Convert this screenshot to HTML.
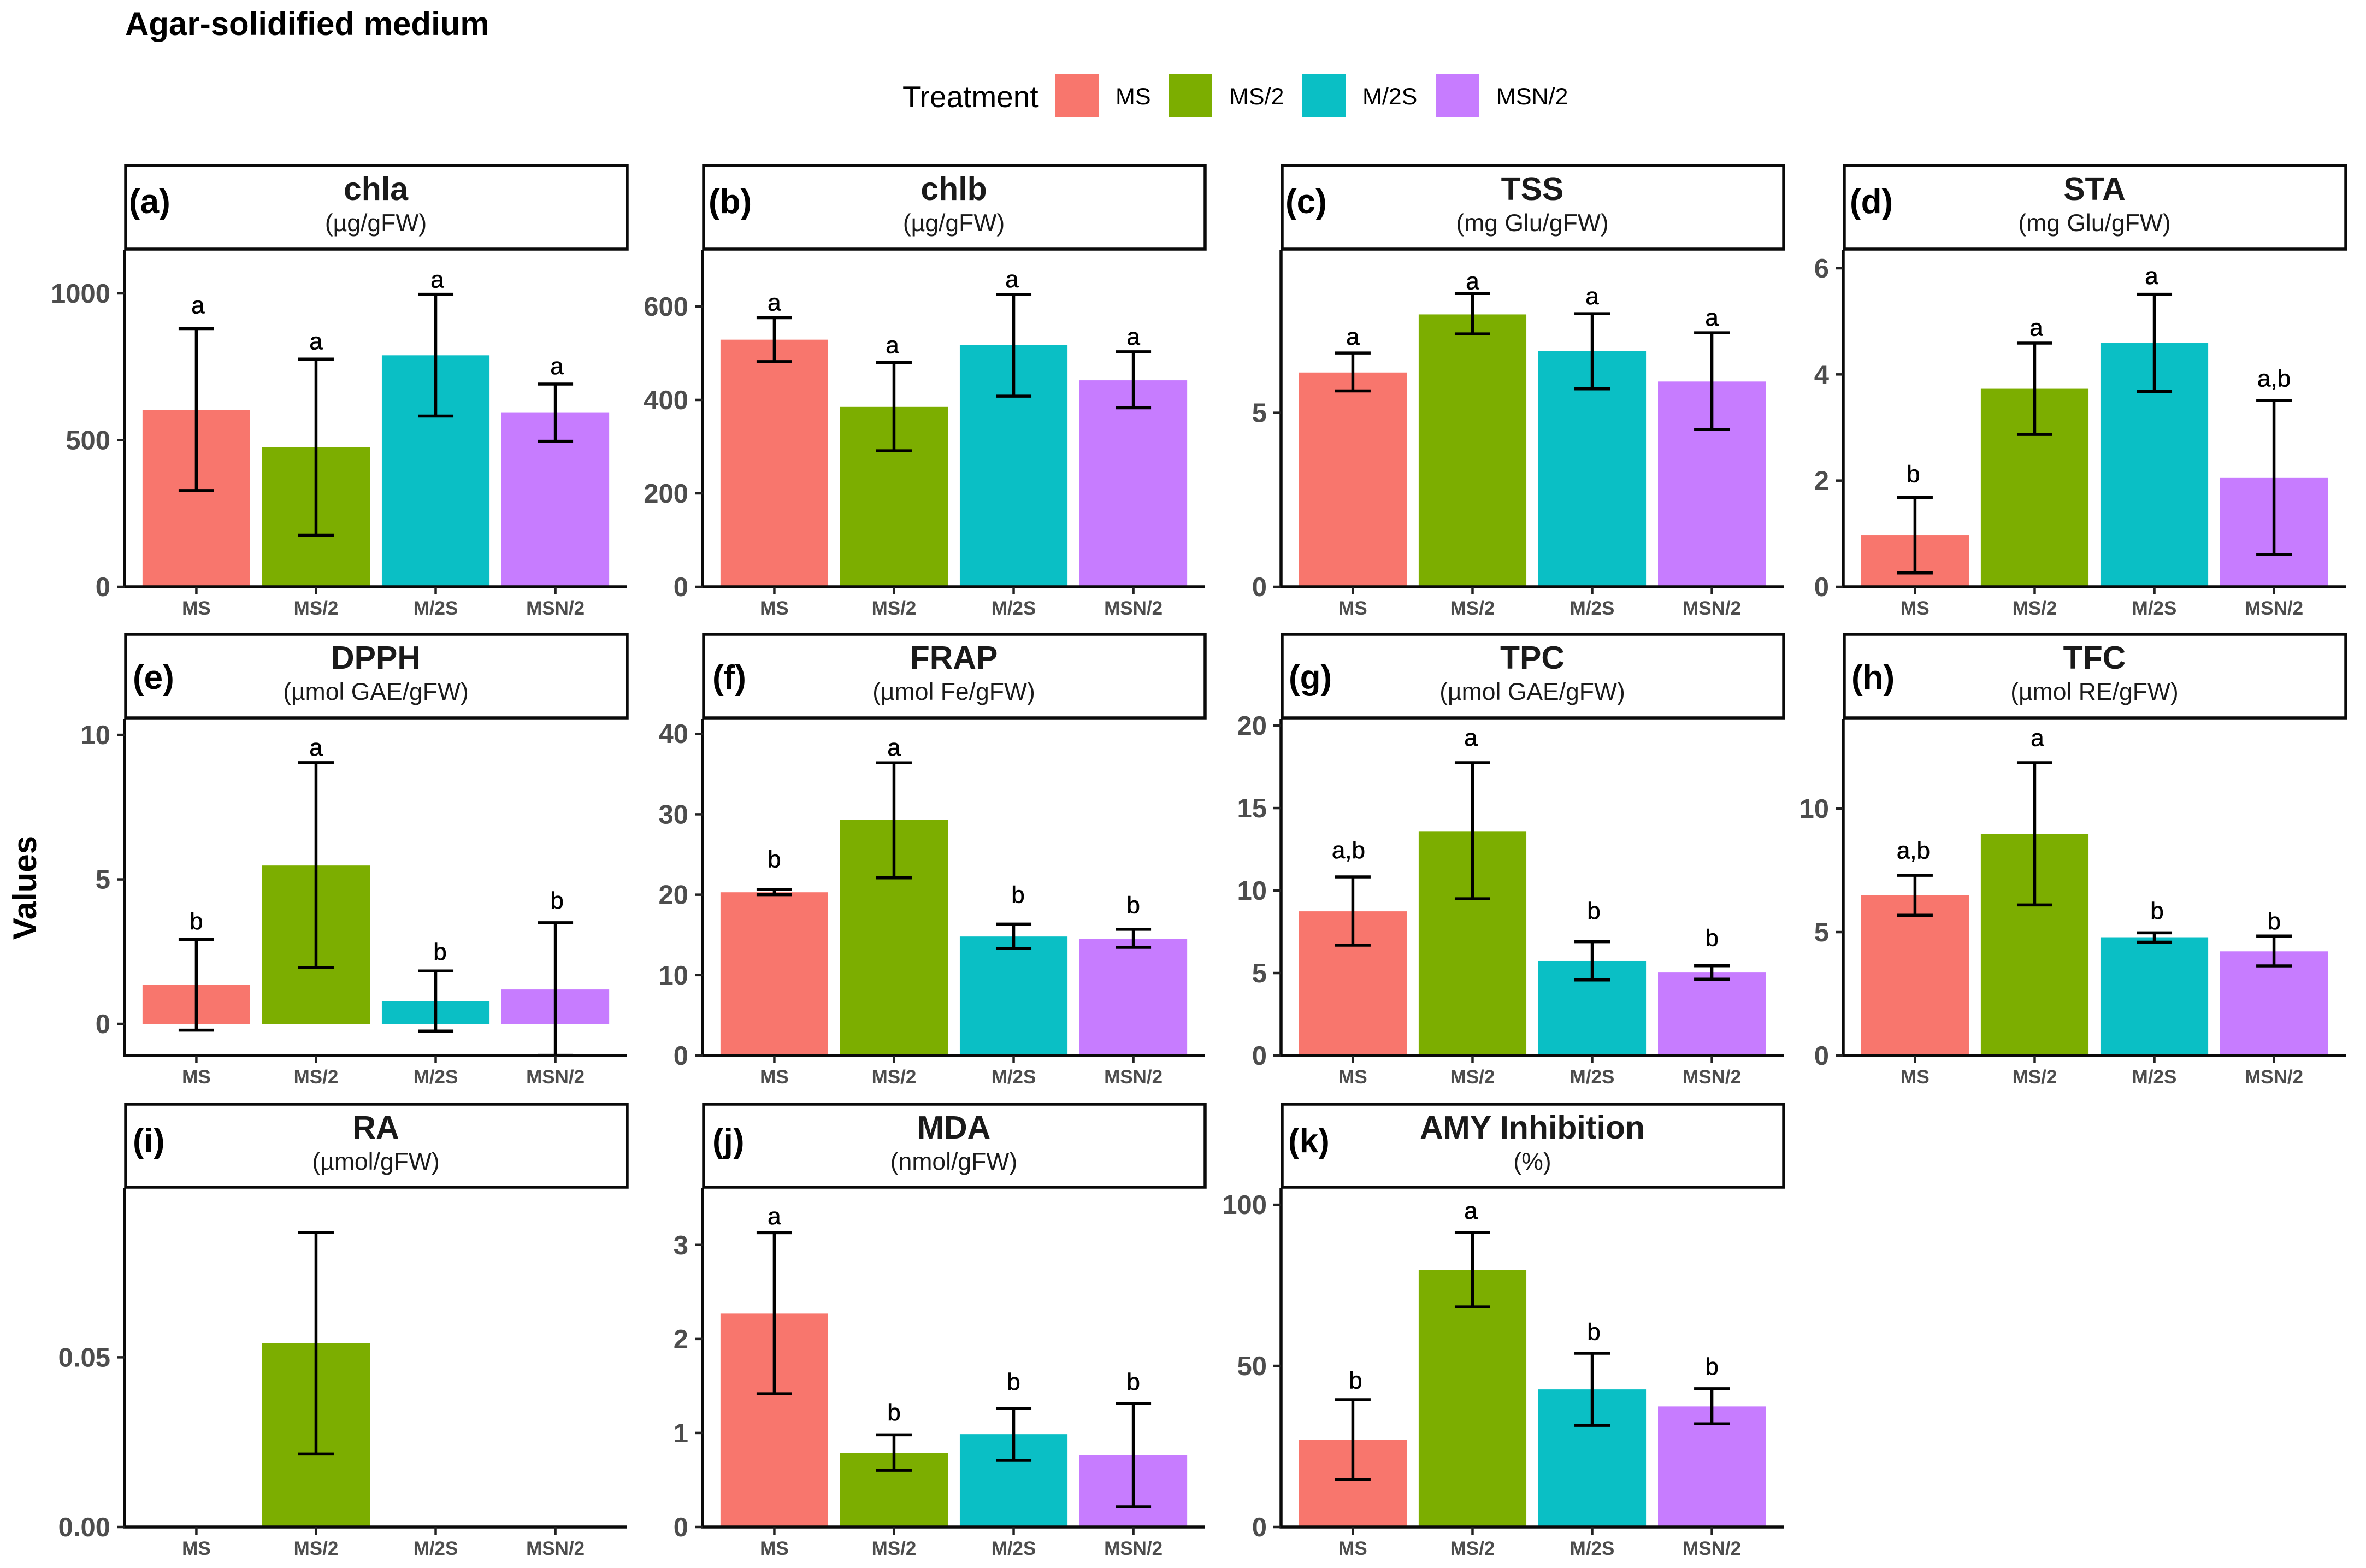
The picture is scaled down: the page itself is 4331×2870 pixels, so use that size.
<!DOCTYPE html>
<html lang="en">
<head>
<meta charset="utf-8">
<title>Agar-solidified medium</title>
<style>
html,body{margin:0;padding:0;background:#fff;}
svg{display:block;font-family:"Liberation Sans",sans-serif;}
</style>
</head>
<body>
<svg id="figure" xmlns="http://www.w3.org/2000/svg" width="4331" height="2870" viewBox="0 0 4331 2870">
  <rect x="0" y="0" width="4331" height="2870" fill="#fff"/>
  <text x="229" y="64" font-size="60" font-weight="700" fill="#000">Agar-solidified medium</text>
  <text transform="translate(66,1625) rotate(-90)" text-anchor="middle" font-size="60" font-weight="700" fill="#000">Values</text>
  <g>
    <text x="1652" y="196" font-size="55" fill="#000">Treatment</text>
    <rect x="1932" y="135" width="79" height="80" fill="#F8766D"/>
    <text x="2042" y="191" font-size="43" fill="#000">MS</text>
    <rect x="2139" y="135" width="79" height="80" fill="#7CAE00"/>
    <text x="2250" y="191" font-size="43" fill="#000">MS/2</text>
    <rect x="2384" y="135" width="79" height="80" fill="#0ABFC5"/>
    <text x="2494" y="191" font-size="43" fill="#000">M/2S</text>
    <rect x="2628" y="135" width="79" height="80" fill="#C77CFF"/>
    <text x="2739" y="191" font-size="43" fill="#000">MSN/2</text>
  </g>
</svg>
<script>
// ---- shared categories ----
const categories = ['MS', 'MS/2', 'M/2S', 'MSN/2'];

// ---- (a) chla ----
const chlaMeans = [602, 475, 789, 593];
const chlaUpper = [880, 776, 997, 691];
const chlaLower = [328, 176, 582, 496];
const chlaLetters = ['a', 'a', 'a', 'a'];
const chlaLetterAt = [932, 809, 1020, 724];
const chlaTicks = [0, 500, 1000];
const chlaTickLabels = ['0', '500', '1000'];
const chlaDomain = [0, 1149];

// ---- (b) chlb ----
const chlbMeans = [529, 385, 517, 442];
const chlbUpper = [576, 480, 626, 503];
const chlbLower = [482, 291, 408, 383];
const chlbLetters = ['a', 'a', 'a', 'a'];
const chlbLetterAt = [591, 500, 641, 518];
const chlbTicks = [0, 200, 400, 600];
const chlbTickLabels = ['0', '200', '400', '600'];
const chlbDomain = [0, 721.6];

// ---- (c) TSS ----
const tssMeans = [6.16, 7.83, 6.77, 5.9];
const tssUpper = [6.72, 8.43, 7.85, 7.3];
const tssLower = [5.63, 7.27, 5.69, 4.52];
const tssLetters = ['a', 'a', 'a', 'a'];
const tssLetterAt = [6.96, 8.55, 8.12, 7.51];
const tssTicks = [0, 5];
const tssTickLabels = ['0', '5'];
const tssDomain = [0, 9.69];

// ---- (d) STA ----
const staMeans = [0.967, 3.73, 4.59, 2.06];
const staUpper = [1.68, 4.59, 5.51, 3.51];
const staLower = [0.26, 2.87, 3.68, 0.61];
const staLetters = ['b', 'a', 'a', 'a,b'];
const staLetterAt = [1.97, 4.73, 5.7, 3.77];
const staTicks = [0, 2, 4, 6];
const staTickLabels = ['0', '2', '4', '6'];
const staDomain = [0, 6.35];

// ---- (e) DPPH ----
const dpphMeans = [1.35, 5.48, 0.78, 1.19];
const dpphUpper = [2.92, 9.04, 1.83, 3.5];
const dpphLower = [-0.22, 1.95, -0.25, -1.09];
const dpphLetters = ['b', 'a', 'b', 'b'];
const dpphLetterAt = [3.27, 9.28, 2.21, 3.99];
const dpphTicks = [0, 5, 10];
const dpphTickLabels = ['0', '5', '10'];
const dpphDomain = [-1.096, 10.55];

// ---- (f) FRAP ----
const frapMeans = [20.3, 29.3, 14.8, 14.5];
const frapUpper = [20.65, 36.4, 16.35, 15.7];
const frapLower = [20.0, 22.1, 13.3, 13.45];
const frapLetters = ['b', 'a', 'b', 'b'];
const frapLetterAt = [23.4, 37.3, 19, 17.7];
const frapTicks = [0, 10, 20, 30, 40];
const frapTickLabels = ['0', '10', '20', '30', '40'];
const frapDomain = [0, 41.85];

// ---- (g) TPC ----
const tpcMeans = [8.74, 13.6, 5.73, 5.03];
const tpcUpper = [10.83, 17.75, 6.9, 5.44];
const tpcLower = [6.69, 9.5, 4.58, 4.63];
const tpcLetters = ['a,b', 'a', 'b', 'b'];
const tpcLetterAt = [11.95, 18.77, 8.28, 6.64];
const tpcTicks = [0, 5, 10, 15, 20];
const tpcTickLabels = ['0', '5', '10', '15', '20'];
const tpcDomain = [0, 20.4];

// ---- (h) TFC ----
const tfcMeans = [6.49, 8.98, 4.79, 4.22];
const tfcUpper = [7.3, 11.86, 4.97, 4.84];
const tfcLower = [5.68, 6.1, 4.59, 3.63];
const tfcLetters = ['a,b', 'a', 'b', 'b'];
const tfcLetterAt = [7.98, 12.54, 5.53, 5.11];
const tfcTicks = [0, 5, 10];
const tfcTickLabels = ['0', '5', '10'];
const tfcDomain = [0, 13.63];

// ---- (i) RA ----
const raMeans = [0, 0.0541, 0, 0];
const raUpper = [0, 0.0868, 0, 0];
const raLower = [0, 0.0215, 0, 0];
const raLetters = ['', '', '', ''];
const raLetterAt = [0, 0, 0, 0];
const raTicks = [0, 0.05];
const raTickLabels = ['0.00', '0.05'];
const raDomain = [0, 0.0998];

// ---- (j) MDA ----
const mdaMeans = [2.27, 0.79, 0.987, 0.763];
const mdaUpper = [3.13, 0.98, 1.26, 1.314];
const mdaLower = [1.417, 0.604, 0.709, 0.215];
const mdaLetters = ['a', 'b', 'b', 'b'];
const mdaLetterAt = [3.22, 1.133, 1.458, 1.458];
const mdaTicks = [0, 1, 2, 3];
const mdaTickLabels = ['0', '1', '2', '3'];
const mdaDomain = [0, 3.603];

// ---- (k) AMY Inhibition ----
const amyMeans = [27.1, 79.8, 42.7, 37.4];
const amyUpper = [39.5, 91.4, 53.9, 42.9];
const amyLower = [14.8, 68.3, 31.5, 32];
const amyLetters = ['b', 'a', 'b', 'b'];
const amyLetterAt = [43, 95.6, 58.1, 47.3];
const amyTicks = [0, 50, 100];
const amyTickLabels = ['0', '50', '100'];
const amyDomain = [0, 105.1];

// ---- layout and style (not data) ----
const SVG_NS = 'http://www.w3.org/2000/svg';
const figure = document.getElementById('figure');
const colors = ['#F8766D', '#7CAE00', '#0ABFC5', '#C77CFF'];
const colLeft = [228, 1286, 2345, 3374];
const rowLayout = [
  {stripTop: 303, stripBottom: 456, plotTop: 457, plotBottom: 1074, tagBase: 390},
  {stripTop: 1161, stripBottom: 1314, plotTop: 1316, plotBottom: 1932, tagBase: 1261},
  {stripTop: 2021, stripBottom: 2173, plotTop: 2175, plotBottom: 2795, tagBase: 2109}
];
const PLOT_W = 920;
const letterNudgePx = {'chla-0': 3, 'chla-2': 3, 'chla-3': 3, 'chlb-1': -3, 'chlb-2': -3, 'sta-0': -3, 'sta-1': 3, 'sta-2': -5, 'dpph-2': 8, 'dpph-3': 3, 'frap-2': 8, 'tpc-0': -8, 'tpc-1': -3, 'tpc-2': 3, 'tfc-0': -3, 'tfc-1': 5, 'tfc-2': 5, 'amy-0': 5, 'amy-1': -3, 'amy-2': 3};

const panels = [
  {key: 'chla', tag: '(a)', title: 'chla', unit: '(µg/gFW)', col: 0, row: 0, tagX: 236, means: chlaMeans, upper: chlaUpper, lower: chlaLower, letters: chlaLetters, letterAt: chlaLetterAt, ticks: chlaTicks, tickLabels: chlaTickLabels, domain: chlaDomain},
  {key: 'chlb', tag: '(b)', title: 'chlb', unit: '(µg/gFW)', col: 1, row: 0, tagX: 1297, means: chlbMeans, upper: chlbUpper, lower: chlbLower, letters: chlbLetters, letterAt: chlbLetterAt, ticks: chlbTicks, tickLabels: chlbTickLabels, domain: chlbDomain},
  {key: 'tss', tag: '(c)', title: 'TSS', unit: '(mg Glu/gFW)', col: 2, row: 0, tagX: 2353, means: tssMeans, upper: tssUpper, lower: tssLower, letters: tssLetters, letterAt: tssLetterAt, ticks: tssTicks, tickLabels: tssTickLabels, domain: tssDomain},
  {key: 'sta', tag: '(d)', title: 'STA', unit: '(mg Glu/gFW)', col: 3, row: 0, tagX: 3386, means: staMeans, upper: staUpper, lower: staLower, letters: staLetters, letterAt: staLetterAt, ticks: staTicks, tickLabels: staTickLabels, domain: staDomain},
  {key: 'dpph', tag: '(e)', title: 'DPPH', unit: '(µmol GAE/gFW)', col: 0, row: 1, tagX: 243, means: dpphMeans, upper: dpphUpper, lower: dpphLower, letters: dpphLetters, letterAt: dpphLetterAt, ticks: dpphTicks, tickLabels: dpphTickLabels, domain: dpphDomain},
  {key: 'frap', tag: '(f)', title: 'FRAP', unit: '(µmol Fe/gFW)', col: 1, row: 1, tagX: 1304, means: frapMeans, upper: frapUpper, lower: frapLower, letters: frapLetters, letterAt: frapLetterAt, ticks: frapTicks, tickLabels: frapTickLabels, domain: frapDomain},
  {key: 'tpc', tag: '(g)', title: 'TPC', unit: '(µmol GAE/gFW)', col: 2, row: 1, tagX: 2359, means: tpcMeans, upper: tpcUpper, lower: tpcLower, letters: tpcLetters, letterAt: tpcLetterAt, ticks: tpcTicks, tickLabels: tpcTickLabels, domain: tpcDomain},
  {key: 'tfc', tag: '(h)', title: 'TFC', unit: '(µmol RE/gFW)', col: 3, row: 1, tagX: 3389, means: tfcMeans, upper: tfcUpper, lower: tfcLower, letters: tfcLetters, letterAt: tfcLetterAt, ticks: tfcTicks, tickLabels: tfcTickLabels, domain: tfcDomain},
  {key: 'ra', tag: '(i)', title: 'RA', unit: '(µmol/gFW)', col: 0, row: 2, tagX: 243, means: raMeans, upper: raUpper, lower: raLower, letters: raLetters, letterAt: raLetterAt, ticks: raTicks, tickLabels: raTickLabels, domain: raDomain},
  {key: 'mda', tag: '(j)', title: 'MDA', unit: '(nmol/gFW)', col: 1, row: 2, tagX: 1304, means: mdaMeans, upper: mdaUpper, lower: mdaLower, letters: mdaLetters, letterAt: mdaLetterAt, ticks: mdaTicks, tickLabels: mdaTickLabels, domain: mdaDomain},
  {key: 'amy', tag: '(k)', title: 'AMY Inhibition', unit: '(%)', col: 2, row: 2, tagX: 2358, means: amyMeans, upper: amyUpper, lower: amyLower, letters: amyLetters, letterAt: amyLetterAt, ticks: amyTicks, tickLabels: amyTickLabels, domain: amyDomain}
];

function make(tag, attrs, parent, content) {
  const el = document.createElementNS(SVG_NS, tag);
  for (const k in attrs) el.setAttribute(k, attrs[k]);
  if (content !== undefined) el.textContent = content;
  parent.appendChild(el);
  return el;
}

function drawPanel(p) {
  const layout = rowLayout[p.row];
  const left = colLeft[p.col];
  const right = left + PLOT_W;
  const step = PLOT_W / 4.2;
  const xOf = function (i) { return left + (i + 0.6) * step; };
  const yOf = function (v) {
    const t = (v - p.domain[0]) / (p.domain[1] - p.domain[0]);
    return layout.plotBottom - t * (layout.plotBottom - layout.plotTop);
  };

  const group = make('g', {}, figure);
  
  

  // strip
  const strip = make('rect', {x: left + 2, y: layout.stripTop, width: PLOT_W - 2, height: layout.stripBottom - layout.stripTop, fill: '#fff', stroke: '#0a0a0a', 'stroke-width': 5.5}, group);
  
  

  const tag = make('text', {x: p.tagX, y: layout.tagBase, 'font-size': 62, 'font-weight': 700, fill: '#000'}, group, p.tag);
  
  

  const title = make('text', {x: left + PLOT_W / 2, y: layout.stripTop + 63, 'text-anchor': 'middle', 'font-size': 59, 'font-weight': 700, fill: '#1a1a1a'}, group, p.title);
  
  

  const unit = make('text', {x: left + PLOT_W / 2, y: layout.stripTop + 120, 'text-anchor': 'middle', 'font-size': 44.5, fill: '#1a1a1a'}, group, p.unit);
  
  

  // bars
  p.means.forEach(function (m, i) {
    const y0 = yOf(0);
    const y1 = yOf(m);
    const bar = make('rect', {x: xOf(i) - step * 0.45, y: Math.min(y0, y1), width: step * 0.9, height: Math.abs(y0 - y1), fill: colors[i]}, group);
    
    
  });

  // error bars
  p.means.forEach(function (m, i) {
    if (p.upper[i] === p.lower[i]) return;
    const cx = xOf(i);
    const yU = yOf(p.upper[i]);
    const yL = yOf(p.lower[i]);
    const err = make('path', {d: 'M' + (cx - 32.5) + ' ' + yU + 'H' + (cx + 32.5) + 'M' + cx + ' ' + yU + 'V' + yL + 'M' + (cx - 32.5) + ' ' + yL + 'H' + (cx + 32.5), fill: 'none', stroke: '#000', 'stroke-width': 5.5}, group);
    
    
  });

  // significance letters
  p.letters.forEach(function (s, i) {
    if (!s) return;
    const nudge = letterNudgePx[p.key + '-' + i] || 0;
    const letter = make('text', {x: xOf(i) + nudge, y: yOf(p.letterAt[i]), 'text-anchor': 'middle', 'font-size': 44, fill: '#000', stroke: '#000', 'stroke-width': 0.6}, group, s);
    
    
  });

  // axes
  const yAxis = make('line', {x1: left, x2: left, y1: layout.plotTop, y2: layout.plotBottom + 2.5, stroke: '#0a0a0a', 'stroke-width': 5.5}, group);
  
  

  const xAxis = make('line', {x1: left - 2.5, x2: right, y1: layout.plotBottom, y2: layout.plotBottom, stroke: '#0a0a0a', 'stroke-width': 5.5}, group);
  
  

  // y ticks
  p.ticks.forEach(function (t, i) {
    const y = yOf(t);
    const tick = make('line', {x1: left - 14, x2: left, y1: y, y2: y, stroke: '#222', 'stroke-width': 4.5}, group);
    
    
    const label = make('text', {x: left - 26, y: y + 17, 'text-anchor': 'end', 'font-size': 49, 'font-weight': 700, fill: '#4d4d4d'}, group, p.tickLabels[i]);
    
    
  });

  // x ticks
  categories.forEach(function (c, i) {
    const x = xOf(i);
    const tick = make('line', {x1: x, x2: x, y1: layout.plotBottom, y2: layout.plotBottom + 14, stroke: '#222', 'stroke-width': 4.5}, group);
    
    
    const label = make('text', {x: x, y: layout.plotBottom + 51, 'text-anchor': 'middle', 'font-size': 35, 'font-weight': 700, fill: '#4d4d4d'}, group, c);
    
    
  });
}

panels.forEach(drawPanel);
</script>
</body>
</html>
